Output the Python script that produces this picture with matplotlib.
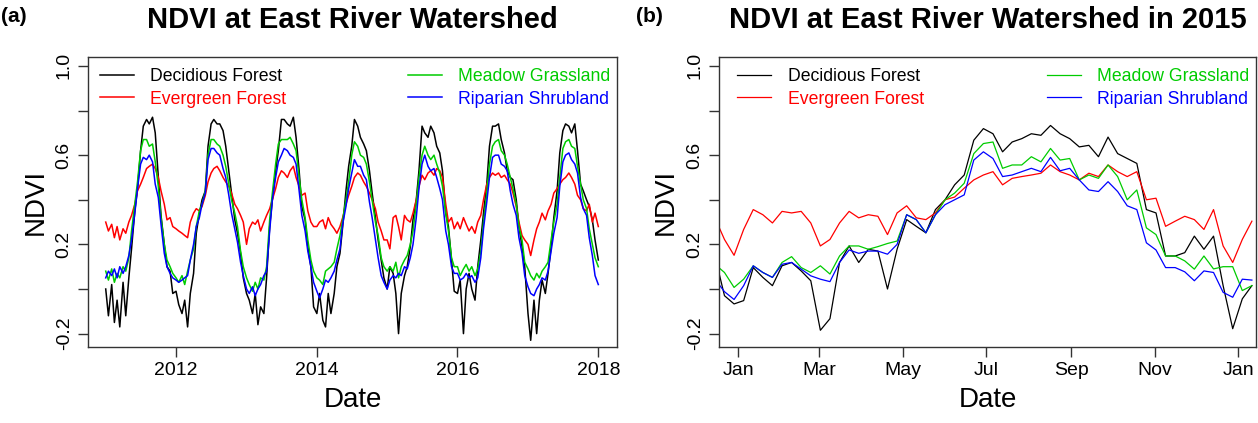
# NDVI time series at East River Watershed: full record and 2015 close-up
import numpy as np
import pandas as pd
import matplotlib
matplotlib.use("Agg")
import matplotlib.pyplot as plt
import matplotlib.dates as mdates
from matplotlib.lines import Line2D

plt.rcParams['font.family'] = ['Liberation Sans', 'DejaVu Sans']

# ---- panel (a): semi-monthly NDVI, 2011-01-01 .. 2018-01-01 ----
dates_a = pd.date_range('2011-01-01', '2018-01-01', freq='SMS')

decid_a = [
    0.00, -0.12, 0.02, -0.15, -0.05, -0.17, 0.03, -0.12, 0.05, 0.18, 0.35, 0.45,
    0.62, 0.73, 0.76, 0.74, 0.77, 0.70, 0.50, 0.33, 0.20, 0.10, 0.08, -0.02,
    -0.01, -0.07, -0.11, -0.05, -0.17, -0.02, 0.07, 0.25, 0.34, 0.40, 0.44, 0.64,
    0.74, 0.76, 0.74, 0.74, 0.71, 0.64, 0.53, 0.43, 0.31, 0.25, 0.16, 0.05,
    -0.02, -0.05, -0.11, -0.02, -0.16, -0.08, -0.11, 0.05, 0.28, 0.40, 0.53, 0.62,
    0.76, 0.76, 0.74, 0.73, 0.77, 0.68, 0.53, 0.37, 0.31, 0.19, 0.10, -0.08,
    -0.11, -0.02, -0.14, -0.17, -0.02, -0.11, -0.02, 0.10, 0.16, 0.28, 0.44, 0.55,
    0.64, 0.76, 0.73, 0.68, 0.65, 0.62, 0.53, 0.43, 0.32, 0.22, 0.13, 0.05,
    0.00, 0.10, 0.07, -0.02, -0.20, -0.02, 0.06, 0.10, 0.19, 0.31, 0.40, 0.53,
    0.73, 0.70, 0.68, 0.73, 0.70, 0.64, 0.61, 0.53, 0.34, 0.28, 0.13, -0.01,
    -0.02, 0.04, -0.20, 0.00, 0.07, 0.00, -0.05, 0.10, 0.22, 0.34, 0.47, 0.64,
    0.73, 0.73, 0.74, 0.67, 0.61, 0.53, 0.50, 0.49, 0.40, 0.28, 0.19, 0.10,
    -0.11, -0.23, -0.05, -0.20, -0.05, 0.04, -0.02, 0.07, 0.19, 0.32, 0.44, 0.61,
    0.71, 0.74, 0.73, 0.70, 0.74, 0.62, 0.47, 0.44, 0.40, 0.37, 0.31, 0.22,
    0.13,
]
evergreen_a = [
    0.30, 0.26, 0.29, 0.23, 0.28, 0.22, 0.27, 0.25, 0.30, 0.33, 0.38, 0.44,
    0.47, 0.50, 0.54, 0.55, 0.56, 0.54, 0.50, 0.44, 0.38, 0.31, 0.32, 0.28,
    0.27, 0.26, 0.25, 0.24, 0.23, 0.30, 0.34, 0.36, 0.35, 0.37, 0.42, 0.48,
    0.52, 0.54, 0.55, 0.53, 0.50, 0.48, 0.46, 0.43, 0.38, 0.36, 0.33, 0.30,
    0.20, 0.27, 0.30, 0.29, 0.31, 0.26, 0.30, 0.33, 0.36, 0.40, 0.45, 0.50,
    0.53, 0.52, 0.50, 0.53, 0.55, 0.50, 0.46, 0.42, 0.43, 0.35, 0.30, 0.28,
    0.28, 0.30, 0.31, 0.27, 0.32, 0.29, 0.27, 0.25, 0.28, 0.32, 0.38, 0.42,
    0.46, 0.50, 0.52, 0.51, 0.48, 0.46, 0.43, 0.40, 0.36, 0.30, 0.26, 0.22,
    0.22, 0.18, 0.32, 0.33, 0.28, 0.22, 0.33, 0.31, 0.30, 0.34, 0.40, 0.46,
    0.51, 0.49, 0.52, 0.53, 0.51, 0.54, 0.53, 0.50, 0.38, 0.30, 0.32, 0.27,
    0.30, 0.27, 0.32, 0.29, 0.26, 0.28, 0.25, 0.30, 0.33, 0.40, 0.47, 0.50,
    0.52, 0.51, 0.52, 0.50, 0.51, 0.49, 0.47, 0.43, 0.37, 0.30, 0.24, 0.22,
    0.20, 0.15, 0.22, 0.27, 0.30, 0.34, 0.31, 0.35, 0.38, 0.43, 0.45, 0.47,
    0.49, 0.50, 0.52, 0.50, 0.47, 0.42, 0.40, 0.36, 0.35, 0.38, 0.30, 0.34,
    0.28,
]
meadow_a = [
    0.08, 0.04, 0.09, 0.03, 0.07, 0.05, 0.10, 0.08, 0.14, 0.26, 0.38, 0.48,
    0.62, 0.67, 0.67, 0.64, 0.65, 0.57, 0.46, 0.32, 0.20, 0.13, 0.10, 0.07,
    0.05, 0.03, 0.06, 0.02, 0.08, 0.13, 0.18, 0.28, 0.35, 0.38, 0.44, 0.60,
    0.67, 0.67, 0.65, 0.64, 0.60, 0.55, 0.47, 0.40, 0.34, 0.28, 0.17, 0.10,
    0.05, 0.02, -0.01, 0.03, 0.00, 0.05, 0.04, 0.10, 0.31, 0.43, 0.56, 0.65,
    0.67, 0.67, 0.67, 0.68, 0.65, 0.62, 0.50, 0.40, 0.32, 0.22, 0.13, 0.08,
    0.05, 0.04, 0.02, 0.08, 0.09, 0.10, 0.12, 0.18, 0.24, 0.31, 0.40, 0.48,
    0.60, 0.66, 0.64, 0.60, 0.59, 0.56, 0.48, 0.40, 0.30, 0.24, 0.14, 0.10,
    0.08, 0.10, 0.08, 0.12, 0.05, 0.10, 0.13, 0.15, 0.20, 0.26, 0.38, 0.50,
    0.60, 0.64, 0.60, 0.58, 0.60, 0.56, 0.52, 0.46, 0.34, 0.26, 0.14, 0.10,
    0.10, 0.06, 0.09, 0.11, 0.08, 0.10, 0.06, 0.09, 0.17, 0.30, 0.43, 0.56,
    0.64, 0.66, 0.67, 0.62, 0.60, 0.56, 0.50, 0.45, 0.38, 0.28, 0.22, 0.12,
    0.09, 0.06, 0.04, 0.07, 0.05, 0.08, 0.10, 0.12, 0.22, 0.30, 0.38, 0.50,
    0.63, 0.66, 0.67, 0.64, 0.63, 0.55, 0.47, 0.40, 0.36, 0.27, 0.20, 0.14,
    0.10,
]
riparian_a = [
    0.05, 0.08, 0.06, 0.09, 0.05, 0.10, 0.07, 0.10, 0.15, 0.22, 0.34, 0.45,
    0.56, 0.59, 0.58, 0.60, 0.57, 0.47, 0.41, 0.29, 0.16, 0.10, 0.07, 0.05,
    0.04, 0.03, 0.04, 0.05, 0.06, 0.13, 0.20, 0.28, 0.32, 0.38, 0.43, 0.58,
    0.63, 0.63, 0.61, 0.60, 0.54, 0.50, 0.42, 0.34, 0.27, 0.21, 0.12, 0.06,
    0.00, -0.02, 0.01, -0.03, 0.00, 0.02, 0.06, 0.08, 0.26, 0.40, 0.50, 0.57,
    0.60, 0.63, 0.62, 0.60, 0.59, 0.56, 0.44, 0.33, 0.26, 0.17, 0.10, 0.03,
    -0.01, -0.04, 0.00, 0.04, 0.03, 0.05, 0.08, 0.13, 0.18, 0.29, 0.37, 0.45,
    0.52, 0.58, 0.55, 0.55, 0.51, 0.49, 0.39, 0.32, 0.22, 0.14, 0.06, 0.03,
    0.00, 0.04, 0.06, 0.05, 0.07, 0.06, 0.10, 0.09, 0.14, 0.20, 0.32, 0.45,
    0.56, 0.60, 0.55, 0.53, 0.54, 0.50, 0.45, 0.40, 0.26, 0.20, 0.10, 0.07,
    0.07, 0.04, 0.05, 0.07, 0.05, 0.06, 0.03, 0.05, 0.14, 0.27, 0.39, 0.50,
    0.59, 0.60, 0.60, 0.56, 0.55, 0.53, 0.44, 0.38, 0.33, 0.23, 0.16, 0.06,
    0.01, -0.02, -0.03, 0.00, 0.02, 0.05, 0.04, 0.08, 0.17, 0.25, 0.32, 0.46,
    0.57, 0.60, 0.61, 0.58, 0.56, 0.52, 0.41, 0.36, 0.33, 0.23, 0.15, 0.06,
    0.02,
]

# ---- panel (b): weekly (smoothed) NDVI, mid-Dec 2014 .. mid-Jan 2016 ----
dates_b = pd.date_range('2014-12-15', periods=57, freq='7D')

decid_b = [0.148, -0.030, -0.067, -0.052, 0.096, 0.052, 0.015, 0.104, 0.119, 0.081,
           0.037, -0.185, -0.133, 0.119, 0.193, 0.119, 0.178, 0.170, 0.000, 0.178,
           0.311, 0.281, 0.252, 0.356, 0.400, 0.467, 0.511, 0.667, 0.719, 0.696,
           0.615, 0.659, 0.674, 0.696, 0.689, 0.733, 0.696, 0.674, 0.637, 0.644,
           0.593, 0.681, 0.607, 0.585, 0.563, 0.356, 0.341, 0.148, 0.148, 0.163,
           0.237, 0.178, 0.237, 0.015, -0.178, -0.044, 0.015]
evergreen_b = [0.319, 0.222, 0.151, 0.267, 0.356, 0.333, 0.296, 0.348, 0.341, 0.348,
               0.296, 0.193, 0.222, 0.296, 0.348, 0.319, 0.333, 0.326, 0.244, 0.341,
               0.373, 0.319, 0.311, 0.341, 0.400, 0.412, 0.452, 0.489, 0.511, 0.526,
               0.467, 0.496, 0.504, 0.511, 0.519, 0.556, 0.526, 0.511, 0.489, 0.519,
               0.504, 0.556, 0.526, 0.504, 0.526, 0.400, 0.407, 0.281, 0.304, 0.326,
               0.311, 0.267, 0.356, 0.193, 0.119, 0.222, 0.304]
meadow_b = [0.111, 0.074, 0.007, 0.044, 0.104, 0.074, 0.052, 0.119, 0.145, 0.096,
            0.074, 0.104, 0.067, 0.148, 0.193, 0.193, 0.178, 0.190, 0.204, 0.215,
            0.333, 0.311, 0.252, 0.333, 0.400, 0.430, 0.474, 0.607, 0.652, 0.659,
            0.541, 0.556, 0.556, 0.593, 0.570, 0.630, 0.578, 0.585, 0.489, 0.511,
            0.496, 0.556, 0.504, 0.400, 0.444, 0.274, 0.244, 0.148, 0.148, 0.126,
            0.089, 0.148, 0.090, 0.100, 0.100, -0.007, 0.015]
riparian_b = [0.044, -0.012, -0.047, 0.015, 0.104, 0.074, 0.052, 0.111, 0.119, 0.089,
              0.059, 0.044, 0.033, 0.119, 0.175, 0.160, 0.170, 0.170, 0.156, 0.200,
              0.333, 0.311, 0.252, 0.333, 0.378, 0.400, 0.422, 0.578, 0.615, 0.585,
              0.504, 0.511, 0.526, 0.541, 0.526, 0.590, 0.530, 0.541, 0.489, 0.444,
              0.437, 0.481, 0.437, 0.373, 0.356, 0.207, 0.175, 0.096, 0.096, 0.077,
              0.037, 0.081, 0.074, -0.015, -0.037, 0.044, 0.040]

labels = ['Decidious Forest', 'Evergreen Forest', 'Meadow Grassland', 'Riparian Shrubland']
colors = ['#000000', '#ff0000', '#00cc00', '#0000ff']
yticks = [-0.2, 0.0, 0.2, 0.4, 0.6, 0.8, 1.0]
ytick_labels = ['-0.2', '', '0.2', '', '0.6', '', '1.0']

W, H = 1258, 423
fig = plt.figure(figsize=(W / 100, H / 100), dpi=100)
ax_a = fig.add_axes([88 / W, 1 - 347 / H, 529 / W, 290 / H])
ax_b = fig.add_axes([719 / W, 1 - 347 / H, 537 / W, 290 / H])

edge = '#333333'


def style_axes(ax, title):
    for sp in ax.spines.values():
        sp.set_color(edge)
        sp.set_linewidth(1.0)
    ax.tick_params(direction='out', length=7, width=1, color=edge,
                   labelsize=14, pad=4)
    ax.set_ylim(-0.26, 1.04)
    ax.set_yticks(yticks)
    ax.set_yticklabels(ytick_labels, rotation=90, va='center')
    ax.set_title(title, fontsize=21, fontweight='bold', pad=21)
    ax.set_xlabel('Date', fontsize=20, va='center')
    ax.xaxis.set_label_coords(0.5, -(400 - 347) / 290)
    ax.set_ylabel('NDVI', fontsize=20, va='center')
    ax.yaxis.set_label_coords(-52 / 529, 0.5)


def add_legends(ax, lw, left_shift=0.0):
    handles = [Line2D([], [], color=c, lw=lw) for c in colors]
    common = dict(frameon=False, fontsize=12.7, labelcolor='linecolor',
                  handlelength=1.9, handletextpad=0.95, borderpad=0.0,
                  borderaxespad=0.0, labelspacing=0.32)
    leg1 = ax.legend(handles[:2], labels[:2], loc='upper left',
                     bbox_to_anchor=(0.023 + left_shift, 0.962), **common)
    ax.add_artist(leg1)
    ax.legend(handles[2:], labels[2:], loc='upper right',
              bbox_to_anchor=(0.988, 0.962), **common)


# panel (a)
series_a = [decid_a, evergreen_a, meadow_a, riparian_a]
for vals, c in zip(series_a, colors):
    ax_a.plot(dates_a, vals, color=c, lw=1.1)
ax_a.set_xlim(pd.Timestamp('2010-10-01'), pd.Timestamp('2018-04-08'))
ax_a.set_xticks([pd.Timestamp(f'{y}-01-01') for y in (2012, 2014, 2016, 2018)])
ax_a.xaxis.set_major_formatter(mdates.DateFormatter('%Y'))
style_axes(ax_a, 'NDVI at East River Watershed')
add_legends(ax_a, 1.1)

# panel (b)
series_b = [decid_b, evergreen_b, meadow_b, riparian_b]
for vals, c in zip(series_b, colors):
    ax_b.plot(dates_b, vals, color=c, lw=0.9)
ax_b.set_xlim(pd.Timestamp('2014-12-18'), pd.Timestamp('2016-01-14'))
ax_b.set_xticks([pd.Timestamp(d) for d in ('2015-01-01', '2015-03-01', '2015-05-01',
                                            '2015-07-01', '2015-09-01', '2015-11-01',
                                            '2016-01-01')])
ax_b.xaxis.set_major_formatter(mdates.DateFormatter('%b'))
style_axes(ax_b, 'NDVI at East River Watershed in 2015')
add_legends(ax_b, 0.9, left_shift=0.011)

fig.text(1 / W, 1 - 17 / H, '(a)', fontsize=15, fontweight='bold', va='center', ha='left')
fig.text(636 / W, 1 - 17 / H, '(b)', fontsize=15, fontweight='bold', va='center', ha='left')

fig.savefig('out.png', dpi=100)
